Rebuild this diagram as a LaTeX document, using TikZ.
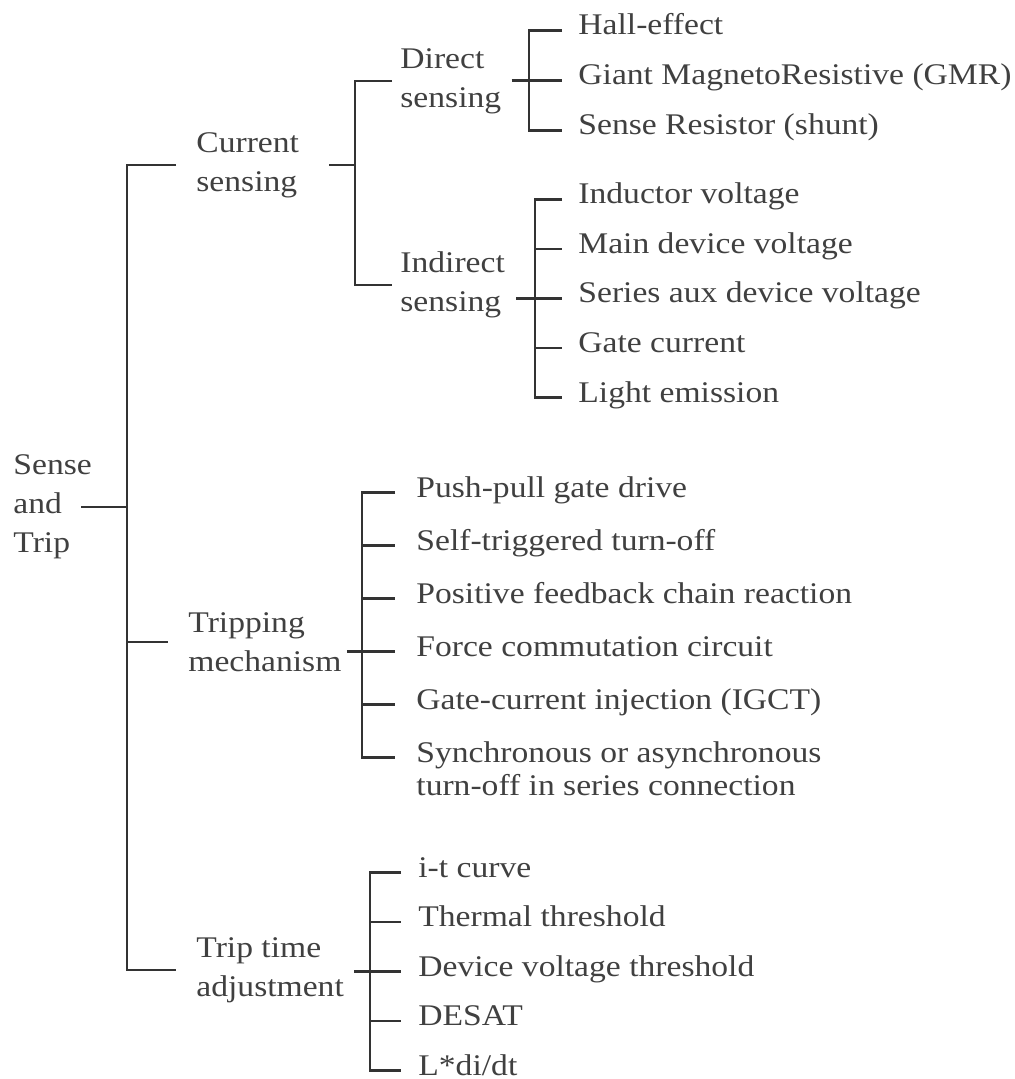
\documentclass[tikz,border=0pt]{standalone}
\usepackage{fontspec}
\setmainfont{Liberation Serif}[FakeStretch=1.12]
\usetikzlibrary{positioning}

\begin{document}
\begin{tikzpicture}[x=0.5pt, y=-0.5pt,
  head/.style={anchor=west, align=left, inner sep=0pt, text=black!75, font=\fontsize{15}{19.5}\selectfont},
  item/.style={anchor=base west, inner sep=0pt, text=black!75, font=\fontsize{15}{19.5}\selectfont},
  link/.style={draw=black!80, line width=1.2pt}
]
\useasboundingbox (0,0) rectangle (1014,1079);

% heads of the tree
\node[head] (root) at (13,507) {Sense\\and\\Trip};
\node[head] (cs) at (196,165) {Current\\sensing};
\node[head] (tm) at (188,642) {Tripping\\mechanism};
\node[head] (tt) at (196,970) {Trip time\\adjustment};
\node[head] (ds) at (400,81) {Direct\\sensing};
\node[head] (is) at (400,285) {Indirect\\sensing};

% direct sensing
\node[item] (d1) at (578,35) {Hall-effect};
\node[item, below=25pt of d1.base west, anchor=base west] (d2) {Giant MagnetoResistive (GMR)};
\node[item, below=25pt of d2.base west, anchor=base west] (d3) {Sense Resistor (shunt)};

% indirect sensing
\node[item] (i1) at (578,204) {Inductor voltage};
\node[item, below=24.75pt of i1.base west, anchor=base west] (i2) {Main device voltage};
\node[item, below=24.75pt of i2.base west, anchor=base west] (i3) {Series aux device voltage};
\node[item, below=24.75pt of i3.base west, anchor=base west] (i4) {Gate current};
\node[item, below=24.75pt of i4.base west, anchor=base west] (i5) {Light emission};

% tripping mechanism
\node[item] (t1) at (416,497) {Push-pull gate drive};
\node[item, below=26.5pt of t1.base west, anchor=base west] (t2) {Self-triggered turn-off};
\node[item, below=26.5pt of t2.base west, anchor=base west] (t3) {Positive feedback chain reaction};
\node[item, below=26.5pt of t3.base west, anchor=base west] (t4) {Force commutation circuit};
\node[item, below=26.5pt of t4.base west, anchor=base west] (t5) {Gate-current injection (IGCT)};
\node[item, font=\fontsize{15}{16.5}\selectfont, below=26.5pt of t5.base west, anchor=base west] (t6)
  {\begin{tabular}[t]{@{}l@{}}Synchronous or asynchronous\\turn-off in series connection\end{tabular}};

% trip time adjustment
\node[item] (a1) at (418,877) {i-t curve};
\node[item, below=24.75pt of a1.base west, anchor=base west] (a2) {Thermal threshold};
\node[item, below=24.75pt of a2.base west, anchor=base west] (a3) {Device voltage threshold};
\node[item, below=24.75pt of a3.base west, anchor=base west] (a4) {DESAT};
\node[item, below=24.75pt of a4.base west, anchor=base west] (a5) {L*di/dt};

% bars
\coordinate (b0) at (127,0);
\coordinate (b1) at (355,0);
\coordinate (b2) at (529,0);
\coordinate (b3) at (535,0);
\coordinate (b4) at (362,0);
\coordinate (b5) at (370,0);

\draw[link] ([xshift=-5.5pt]root.east) -- (b0 |- root.east);
\draw[link] ([xshift=-10pt]cs.west) -| (b0 |- tt.west) -- ([xshift=-10pt]tt.west)
  (b0 |- tm.west) -- ([xshift=-10pt]tm.west);

\draw[link] ([xshift=15pt]cs.east) -- (b1 |- cs.east);
\draw[link] ([xshift=-4pt]ds.west) -| (b1 |- is.west) -- ([xshift=-4pt]is.west);

\draw[link] ([xshift=-8pt]d1.mid west) -| (b2 |- d3.mid west) -- ([xshift=-8pt]d3.mid west)
  ([xshift=5pt]ds.east |- d2.mid west) -- ([xshift=-8pt]d2.mid west);

\draw[link] ([xshift=-8pt]i1.mid west) -| (b3 |- i5.mid west) -- ([xshift=-8pt]i5.mid west)
  (b3 |- i2.mid west) -- ([xshift=-8pt]i2.mid west)
  ([xshift=5.5pt]is.east |- i3.mid west) -- ([xshift=-8pt]i3.mid west)
  (b3 |- i4.mid west) -- ([xshift=-8pt]i4.mid west);

\draw[link] ([xshift=-10.5pt]t1.mid west) -| (b4 |- t6.mid west) -- ([xshift=-10.5pt]t6.mid west)
  (b4 |- t2.mid west) -- ([xshift=-10.5pt]t2.mid west)
  (b4 |- t3.mid west) -- ([xshift=-10.5pt]t3.mid west)
  ([xshift=2.5pt]tm.east |- t4.mid west) -- ([xshift=-10.5pt]t4.mid west)
  (b4 |- t5.mid west) -- ([xshift=-10.5pt]t5.mid west);

\draw[link] ([xshift=-8.5pt]a1.mid west) -| (b5 |- a5.mid west) -- ([xshift=-8.5pt]a5.mid west)
  (b5 |- a2.mid west) -- ([xshift=-8.5pt]a2.mid west)
  ([xshift=5pt]tt.east |- a3.mid west) -- ([xshift=-8.5pt]a3.mid west)
  (b5 |- a4.mid west) -- ([xshift=-8.5pt]a4.mid west);
\end{tikzpicture}
\end{document}
